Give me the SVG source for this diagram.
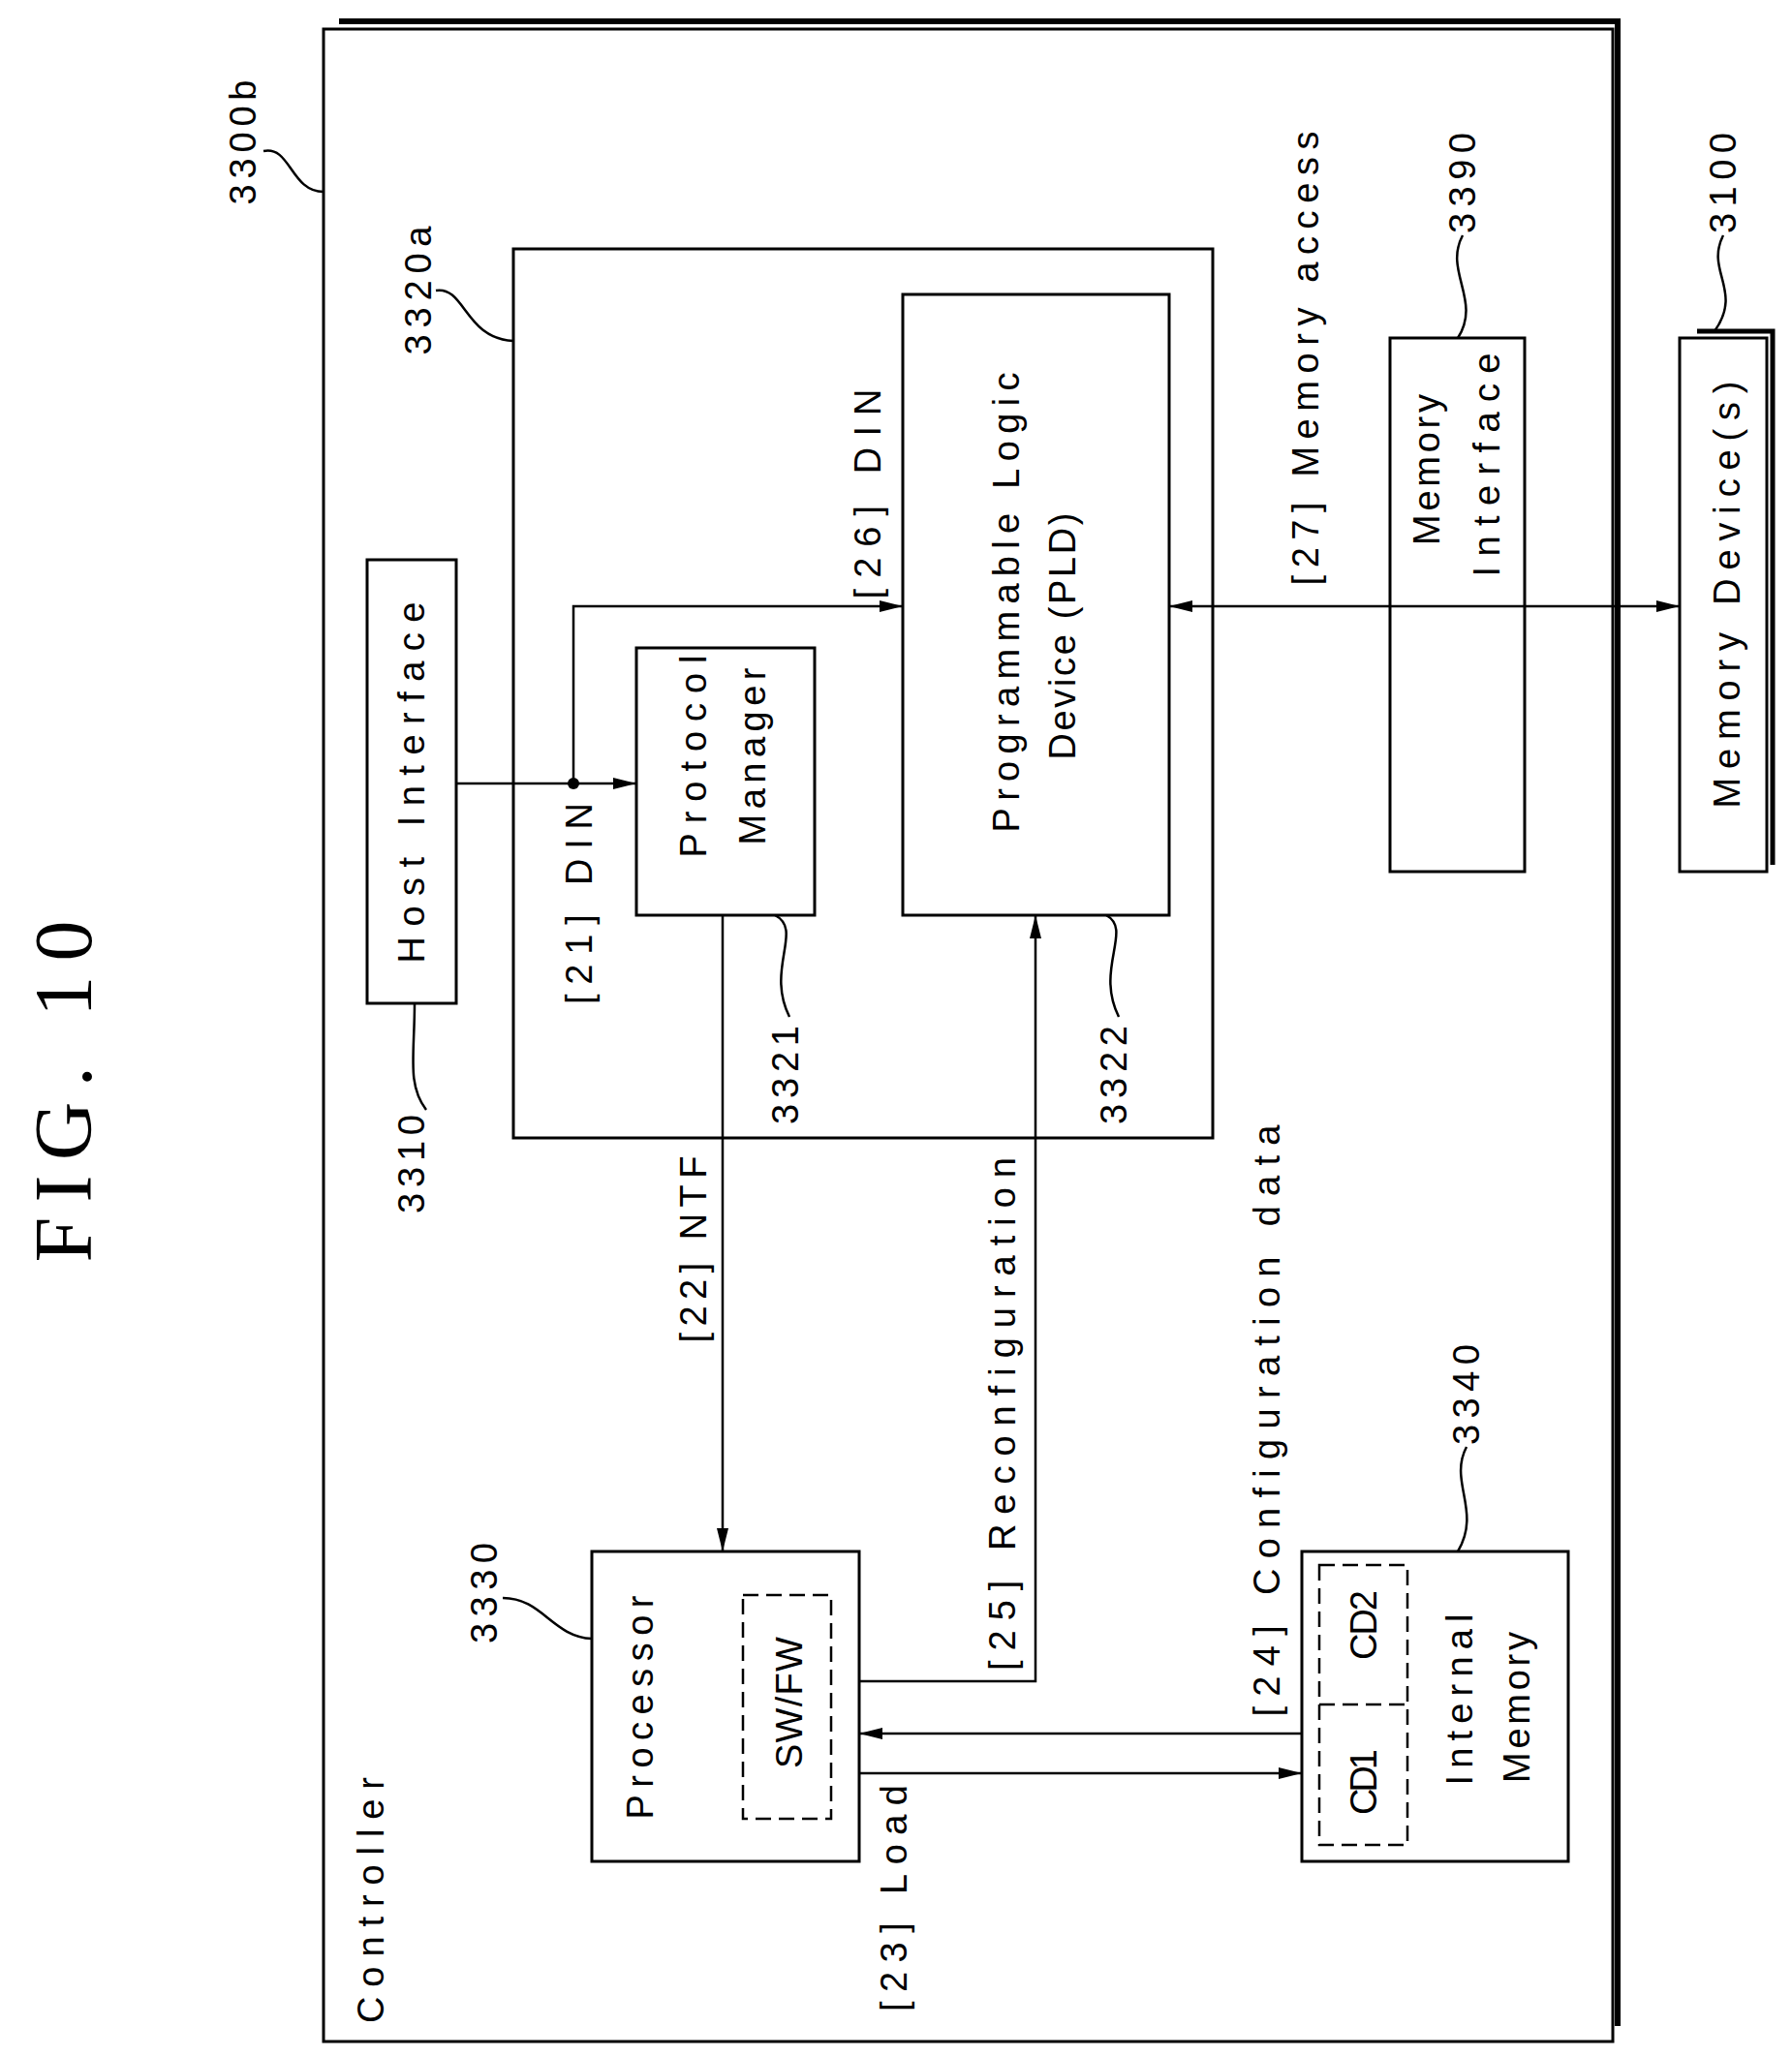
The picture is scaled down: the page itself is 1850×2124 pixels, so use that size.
<svg xmlns="http://www.w3.org/2000/svg" width="1850" height="2124" viewBox="0 0 1850 2124">
<defs>
<style>
.b{fill:none;stroke:#000;stroke-width:3}
.l{fill:none;stroke:#000;stroke-width:2.5}
.d{fill:none;stroke:#000;stroke-width:2.5;stroke-dasharray:16 8}
text{font-family:"Liberation Sans",Arial,sans-serif;font-size:38px;fill:#000;text-anchor:middle;dominant-baseline:central}
</style>
<marker id="a" viewBox="0 0 24 14" refX="24" refY="7" markerWidth="24" markerHeight="14" markerUnits="userSpaceOnUse" orient="auto-start-reverse"><path d="M0,1 L24,7 L0,13 z" fill="#000"/></marker>
</defs>
<rect width="1850" height="2124" fill="#fff"/>
<text x="65" y="1127" transform="rotate(-90 65 1127)" style="font-family:'Liberation Serif',serif;font-size:84px" textLength="353" lengthAdjust="spacing">FIG. 10</text>
<g id="controller">
<rect class="b" x="334" y="30" width="1331" height="2078"/>
<path d="M350,22 H1670 V2092" fill="none" stroke="#000" stroke-width="6"/>
<text x="383" y="1962" transform="rotate(-90 383 1962)" textLength="254" lengthAdjust="spacing">Controller</text>
<text x="251" y="147" transform="rotate(-90 251 147)" textLength="129" lengthAdjust="spacing">3300b</text>
<path class="l" d="M272,156 C300,150 300,198 334,198"/>
</g>
<g id="n3320a">
<rect class="b" x="530" y="257" width="722" height="918"/>
<text x="432" y="300" transform="rotate(-90 432 300)" textLength="133" lengthAdjust="spacing">3320a</text>
<path class="l" d="M450,300 C480,295 480,350 530,352"/>
</g>
<g id="host">
<rect class="b" x="379" y="578" width="92" height="458"/>
<text x="425" y="808" transform="rotate(-90 425 808)" textLength="373" lengthAdjust="spacing">Host Interface</text>
<text x="425" y="1202" transform="rotate(-90 425 1202)" textLength="102" lengthAdjust="spacing">3310</text>
<path class="l" d="M428,1036 C428,1090 420,1120 440,1146"/>
</g>
<g id="pm">
<rect class="b" x="657" y="669" width="184" height="276"/>
<text x="716" y="781" transform="rotate(-90 716 781)" textLength="209" lengthAdjust="spacing">Protocol</text>
<text x="777" y="781" transform="rotate(-90 777 781)" textLength="183" lengthAdjust="spacing">Manager</text>
<text x="811" y="1110" transform="rotate(-90 811 1110)" textLength="102" lengthAdjust="spacing">3321</text>
<path class="l" d="M800,945 C830,960 790,1000 815,1050"/>
</g>
<g id="pld">
<rect class="b" x="932" y="304" width="275" height="641"/>
<text x="1039" y="622" transform="rotate(-90 1039 622)" textLength="475" lengthAdjust="spacing">Programmable Logic</text>
<text x="1097" y="657" transform="rotate(-90 1097 657)" textLength="255" lengthAdjust="spacing">Device (PLD)</text>
<text x="1150" y="1110" transform="rotate(-90 1150 1110)" textLength="102" lengthAdjust="spacing">3322</text>
<path class="l" d="M1142,945 C1170,960 1130,1000 1155,1050"/>
</g>
<g id="memif">
<rect class="b" x="1435" y="349" width="139" height="551"/>
<text x="1473" y="485" transform="rotate(-90 1473 485)" textLength="156" lengthAdjust="spacing">Memory</text>
<text x="1535" y="480" transform="rotate(-90 1535 480)" textLength="231" lengthAdjust="spacing">Interface</text>
<text x="1510" y="189" transform="rotate(-90 1510 189)" textLength="104" lengthAdjust="spacing">3390</text>
<path class="l" d="M1510,243 C1490,280 1530,310 1505,349"/>
</g>
<g id="memdev">
<rect class="b" x="1734" y="349" width="90" height="551"/>
<path d="M1752,342 H1830 V893" fill="none" stroke="#000" stroke-width="5"/>
<text x="1783" y="614" transform="rotate(-90 1783 614)" textLength="441" lengthAdjust="spacing">Memory Device(s)</text>
<text x="1779" y="189" transform="rotate(-90 1779 189)" textLength="104" lengthAdjust="spacing">3100</text>
<path class="l" d="M1779,243 C1760,280 1800,300 1770,342"/>
</g>
<g id="proc">
<rect class="b" x="611" y="1602" width="276" height="320"/>
<rect class="d" x="767" y="1647" width="91" height="231"/>
<text x="661" y="1763" transform="rotate(-90 661 1763)" textLength="231" lengthAdjust="spacing">Processor</text>
<text x="815" y="1758" transform="rotate(-90 815 1758)" textLength="136" lengthAdjust="spacing">SW/FW</text>
<text x="500" y="1645" transform="rotate(-90 500 1645)" textLength="104" lengthAdjust="spacing">3330</text>
<path class="l" d="M519,1650 C560,1650 570,1690 611,1692"/>
</g>
<g id="im">
<rect class="b" x="1344" y="1602" width="275" height="320"/>
<rect class="d" x="1362" y="1616" width="91" height="289"/>
<path class="d" d="M1362,1760 H1453"/>
<text x="1408" y="1678" transform="rotate(-90 1408 1678)" textLength="72" lengthAdjust="spacing">CD2</text>
<text x="1408" y="1840" transform="rotate(-90 1408 1840)" textLength="68" lengthAdjust="spacing">CD1</text>
<text x="1507" y="1755" transform="rotate(-90 1507 1755)" textLength="177" lengthAdjust="spacing">Internal</text>
<text x="1566" y="1763" transform="rotate(-90 1566 1763)" textLength="156" lengthAdjust="spacing">Memory</text>
<text x="1514" y="1440" transform="rotate(-90 1514 1440)" textLength="104" lengthAdjust="spacing">3340</text>
<path class="l" d="M1514,1494 C1495,1530 1530,1560 1505,1602"/>
</g>
<g id="connectors">
<path class="l" d="M471,809 H657" marker-end="url(#a)"/>
<circle cx="592" cy="809" r="6"/>
<path class="l" d="M592,809 V626 H932" marker-end="url(#a)"/>
<path class="l" d="M746,945 V1602" marker-end="url(#a)"/>
<path class="l" d="M887,1736 H1069 V945" marker-end="url(#a)"/>
<path class="l" d="M1344,1790 H887" marker-end="url(#a)"/>
<path class="l" d="M887,1831 H1344" marker-end="url(#a)"/>
<path class="l" d="M1207,626 H1734" marker-start="url(#a)" marker-end="url(#a)"/>
<text x="598" y="933" transform="rotate(-90 598 933)" textLength="208" lengthAdjust="spacing">[21] DIN</text>
<text x="896" y="510" transform="rotate(-90 896 510)" textLength="217" lengthAdjust="spacing">[26] DIN</text>
<text x="716" y="1290" transform="rotate(-90 716 1290)" textLength="193" lengthAdjust="spacing">[22] NTF</text>
<text x="1035" y="1460" transform="rotate(-90 1035 1460)" textLength="530" lengthAdjust="spacing">[25] Reconfiguration</text>
<text x="1308" y="1467" transform="rotate(-90 1308 1467)" textLength="611" lengthAdjust="spacing">[24] Configuration data</text>
<text x="923" y="1960" transform="rotate(-90 923 1960)" textLength="234" lengthAdjust="spacing">[23] Load</text>
<text x="1348" y="370" transform="rotate(-90 1348 370)" textLength="469" lengthAdjust="spacing">[27] Memory access</text>
</g>
</svg>
